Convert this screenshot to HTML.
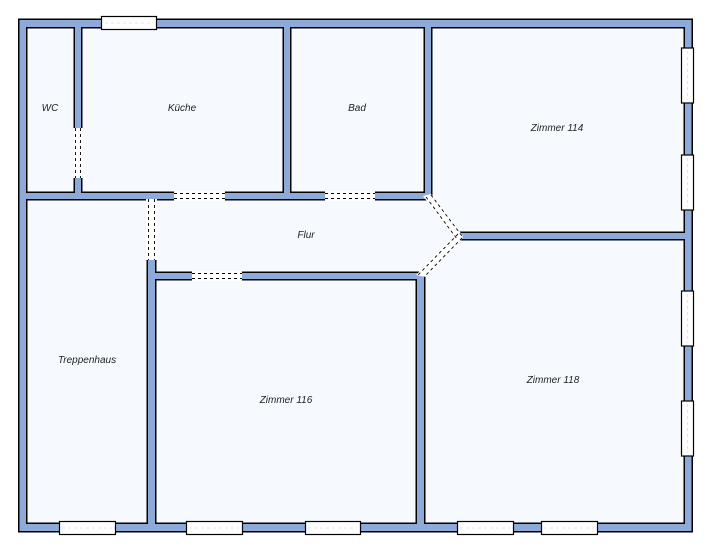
<!DOCTYPE html>
<html><head><style>
html,body{margin:0;padding:0;background:#fff;}
svg{display:block;}
text{font-family:"Liberation Sans",sans-serif;font-size:10px;font-style:italic;fill:#222;text-anchor:middle;}
</style></head><body>
<svg width="726" height="552" viewBox="0 0 726 552" xmlns="http://www.w3.org/2000/svg">
<rect x="0" y="0" width="726" height="552" fill="#fff"/>
<rect x="22" y="23" width="666" height="505" fill="#f6faff"/>
<defs>
<g id="walls">
<rect x="19.5" y="20" width="672" height="7"/>
<rect x="19.5" y="524" width="672" height="7"/>
<rect x="19.5" y="20" width="6.5" height="511"/>
<rect x="685" y="20" width="6.5" height="511"/>
<rect x="75" y="24" width="6" height="172"/>
<rect x="22" y="193" width="408" height="6"/>
<rect x="284" y="24" width="6" height="172"/>
<rect x="425" y="24" width="6" height="172"/>
<rect x="458" y="233" width="229" height="6"/>
<rect x="148" y="196" width="7" height="330"/>
<rect x="152" y="273" width="271" height="6"/>
<rect x="417" y="275" width="7" height="251"/>
</g>
</defs>
<use href="#walls" fill="none" stroke="#000" stroke-width="3"/>
<use href="#walls" fill="#8eaad8"/>
<!-- doors -->
<g fill="#fff" stroke="none">
<rect x="73" y="128" width="10" height="50"/>
<rect x="174" y="191" width="51" height="10"/>
<rect x="325" y="191" width="50" height="10"/>
<rect x="146" y="199" width="11" height="61"/>
<rect x="192" y="271" width="50" height="10"/>
<polygon points="423,196 431,194 463,236 457,241"/>
<polygon points="457,233 463,238 425,277 416,275"/>
</g>
<g fill="none" stroke="#000" stroke-width="0.9" stroke-dasharray="3,3">
<line x1="75.5" y1="128" x2="75.5" y2="178"/><line x1="80.5" y1="128" x2="80.5" y2="178"/>
<line x1="174" y1="193.5" x2="225" y2="193.5"/><line x1="174" y1="198.5" x2="225" y2="198.5"/>
<line x1="325" y1="193.5" x2="375" y2="193.5"/><line x1="325" y1="198.5" x2="375" y2="198.5"/>
<line x1="148.5" y1="199" x2="148.5" y2="260"/><line x1="154.5" y1="199" x2="154.5" y2="260"/>
<line x1="192" y1="273.5" x2="242" y2="273.5"/><line x1="192" y1="278.5" x2="242" y2="278.5"/>
<line x1="426" y1="197" x2="457" y2="239"/><line x1="431" y1="195" x2="462" y2="236"/>
<line x1="458" y1="234" x2="418" y2="275"/><line x1="462" y1="238" x2="424" y2="277"/>
</g>
<!-- windows -->
<g fill="#fff" stroke="#000" stroke-width="1.2">
<rect x="101.5" y="16.5" width="55" height="13"/>
<rect x="681.5" y="48" width="12" height="55"/>
<rect x="681.5" y="155" width="12" height="55"/>
<rect x="681.5" y="291" width="12" height="55"/>
<rect x="681.5" y="401" width="12" height="55"/>
<rect x="59.5" y="521.5" width="56" height="13"/>
<rect x="186.5" y="521.5" width="56" height="13"/>
<rect x="305.5" y="521.5" width="55" height="13"/>
<rect x="457.5" y="521.5" width="56" height="13"/>
<rect x="541.5" y="521.5" width="56" height="13"/>
</g>
<g stroke="#ddd" stroke-width="0.8" stroke-dasharray="3,3">
<line x1="105" y1="23" x2="153" y2="23"/>
<line x1="687.5" y1="51" x2="687.5" y2="100"/>
<line x1="687.5" y1="158" x2="687.5" y2="207"/>
<line x1="687.5" y1="294" x2="687.5" y2="343"/>
<line x1="687.5" y1="404" x2="687.5" y2="453"/>
<line x1="62" y1="528" x2="112" y2="528"/>
<line x1="189" y1="528" x2="239" y2="528"/>
<line x1="308" y1="528" x2="357" y2="528"/>
<line x1="460" y1="528" x2="510" y2="528"/>
<line x1="544" y1="528" x2="594" y2="528"/>
</g>
<text x="50" y="111">WC</text>
<text x="182" y="111">Küche</text>
<text x="357" y="111">Bad</text>
<text x="557" y="131">Zimmer 114</text>
<text x="306" y="238">Flur</text>
<text x="87" y="363">Treppenhaus</text>
<text x="286" y="403">Zimmer 116</text>
<text x="553" y="383">Zimmer 118</text>
</svg>
</body></html>
